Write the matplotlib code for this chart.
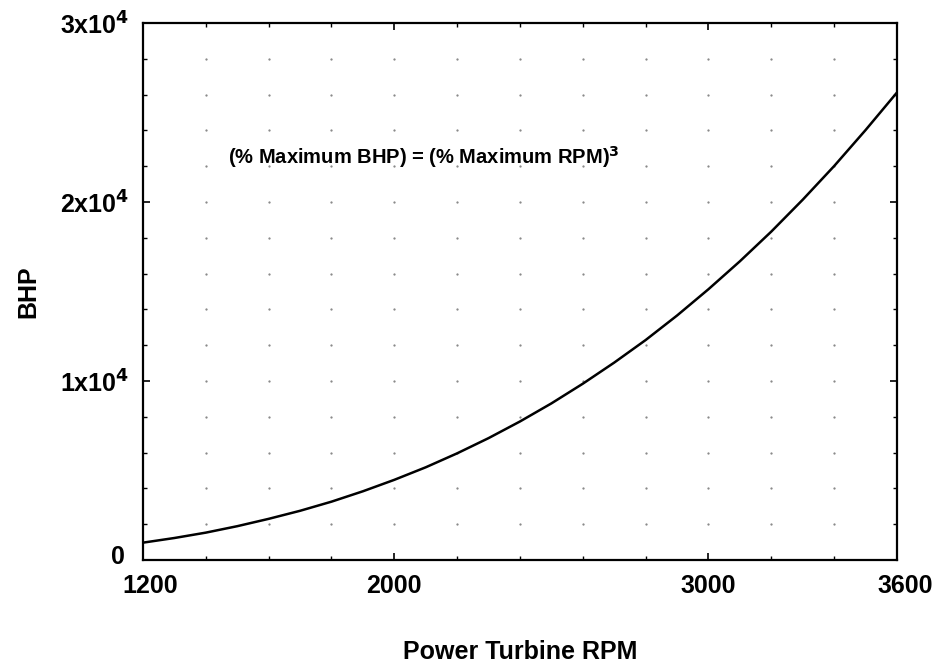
import matplotlib.pyplot as plt
from matplotlib.ticker import MultipleLocator, FuncFormatter
from matplotlib.transforms import ScaledTranslation
import numpy as np

plt.rcParams['font.family'] = ['Liberation Sans', 'DejaVu Sans']
plt.rcParams['font.weight'] = 'bold'
plt.rcParams['mathtext.default'] = 'bf'

# values
rpm = [1200, 1300, 1400, 1500, 1600, 1700, 1800, 1900, 2000, 2100, 2200, 2300,
       2400, 2500, 2600, 2700, 2800, 2900, 3000, 3100, 3200, 3300, 3400, 3500, 3600]
bhp = [970, 1230, 1530, 1890, 2300, 2750, 3260, 3840, 4480, 5180, 5960, 6810,
       7740, 8750, 9850, 11030, 12290, 13660, 15130, 16690, 18350, 20130, 22010, 24020, 26120]

x_ticks = [1200, 2000, 3000, 3600]
y_ticks = [0, 10000, 20000, 30000]

fig = plt.figure(figsize=(9.37, 6.69), dpi=100)
ax = fig.add_axes([0.1526, 0.1629, 0.8047, 0.8027])

# sparse dot grid at the minor tick intersections
gx, gy = np.meshgrid(np.arange(1400, 3600, 200), np.arange(2000, 30000, 2000))
ax.plot(gx.ravel(), gy.ravel(), ls='none', marker='.', ms=1.2, color='0.5')

ax.plot(rpm, bhp, color='black', lw=1.8)

ax.set_xlim(1200, 3600)
ax.set_ylim(0, 30000)
ax.set_xticks(x_ticks)
ax.set_yticks(y_ticks)
ax.xaxis.set_minor_locator(MultipleLocator(200))
ax.yaxis.set_minor_locator(MultipleLocator(2000))

def ylab(v, pos):
    if v == 0:
        return '0'
    return r'%dx10$^{4}$' % int(round(v / 10000))

ax.yaxis.set_major_formatter(FuncFormatter(ylab))
ax.tick_params(axis='both', which='both', direction='in', top=True, right=True,
               labelsize=18)
ax.tick_params(axis='both', which='major', length=5, width=1.2)
ax.tick_params(axis='both', which='minor', length=3, width=1.0)
ax.tick_params(axis='x', pad=10)
ax.tick_params(axis='y', pad=10)
for s in ax.spines.values():
    s.set_linewidth(1.6)

# nudge the corner labels like the original
xl = ax.get_xticklabels()
xl[0].set_transform(xl[0].get_transform() + ScaledTranslation(7/100, 0, fig.dpi_scale_trans))
xl[-1].set_transform(xl[-1].get_transform() + ScaledTranslation(8/100, 0, fig.dpi_scale_trans))
yl = ax.get_yticklabels()
yl[0].set_transform(yl[0].get_transform() + ScaledTranslation(-4/100, 6/100, fig.dpi_scale_trans))

ax.text(1470, 22500, r'(% Maximum BHP) = (% Maximum RPM)$^{3}$',
        fontsize=14.5, va='center', ha='left')

ax.set_xlabel('Power Turbine RPM', fontsize=18, fontweight='bold', labelpad=30)
ax.set_ylabel('BHP', fontsize=18, fontweight='bold', labelpad=14)

fig.savefig('out.png', dpi=100)
